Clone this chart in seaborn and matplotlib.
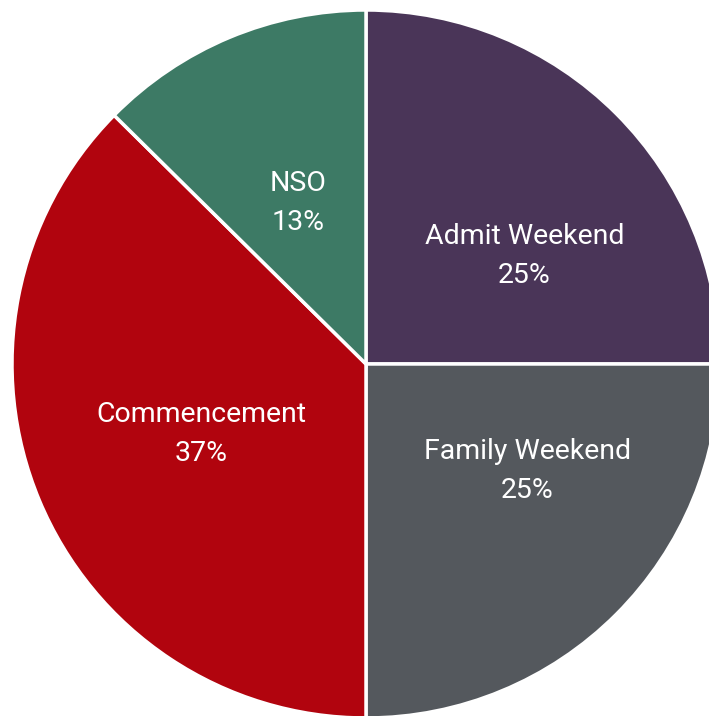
import matplotlib
matplotlib.use("Agg")
import matplotlib.pyplot as plt
import seaborn as sns

sns.set_theme(style="white")
plt.rcParams['font.family'] = ['Roboto', 'DejaVu Sans']

categories = ["Admit Weekend", "Family Weekend", "Commencement", "NSO"]
values = [25, 25, 37.4, 12.6]
colors = ["#4a3558", "#54585d", "#b1040e", "#3d7a65"]
# label placement (fraction of radius), as laid out in the reference
label_pos = [(0.448, 0.305), (0.456, -0.302), (-0.466, -0.198), (-0.192, 0.455)]

W, H = 709, 716
fig = plt.figure(figsize=(W / 100, H / 100), dpi=100)
cx, cy, r = 366, 364, 354
ax = fig.add_axes([(cx - r) / W, (H - cy - r) / H, 2 * r / W, 2 * r / H])
ax.set_axis_off()

total = sum(values)
labels = [f"{c}\n{round(v / total * 100):.0f}%" for c, v in zip(categories, values)]
wedges, texts = ax.pie(values, colors=colors, startangle=90, counterclock=False,
                       labels=labels, labeldistance=0.53,
                       wedgeprops=dict(edgecolor="white", linewidth=2.5))
for t, p in zip(texts, label_pos):
    t.set_position(p)
    t.set_ha("center")
    t.set_va("center")
    t.set_color("white")
    t.set_fontsize(20.5)
    t.set_linespacing(1.55)
ax.set_xlim(-1, 1)
ax.set_ylim(-1, 1)
ax.set_aspect("equal")
fig.savefig("out.png", dpi=100, facecolor="white")
